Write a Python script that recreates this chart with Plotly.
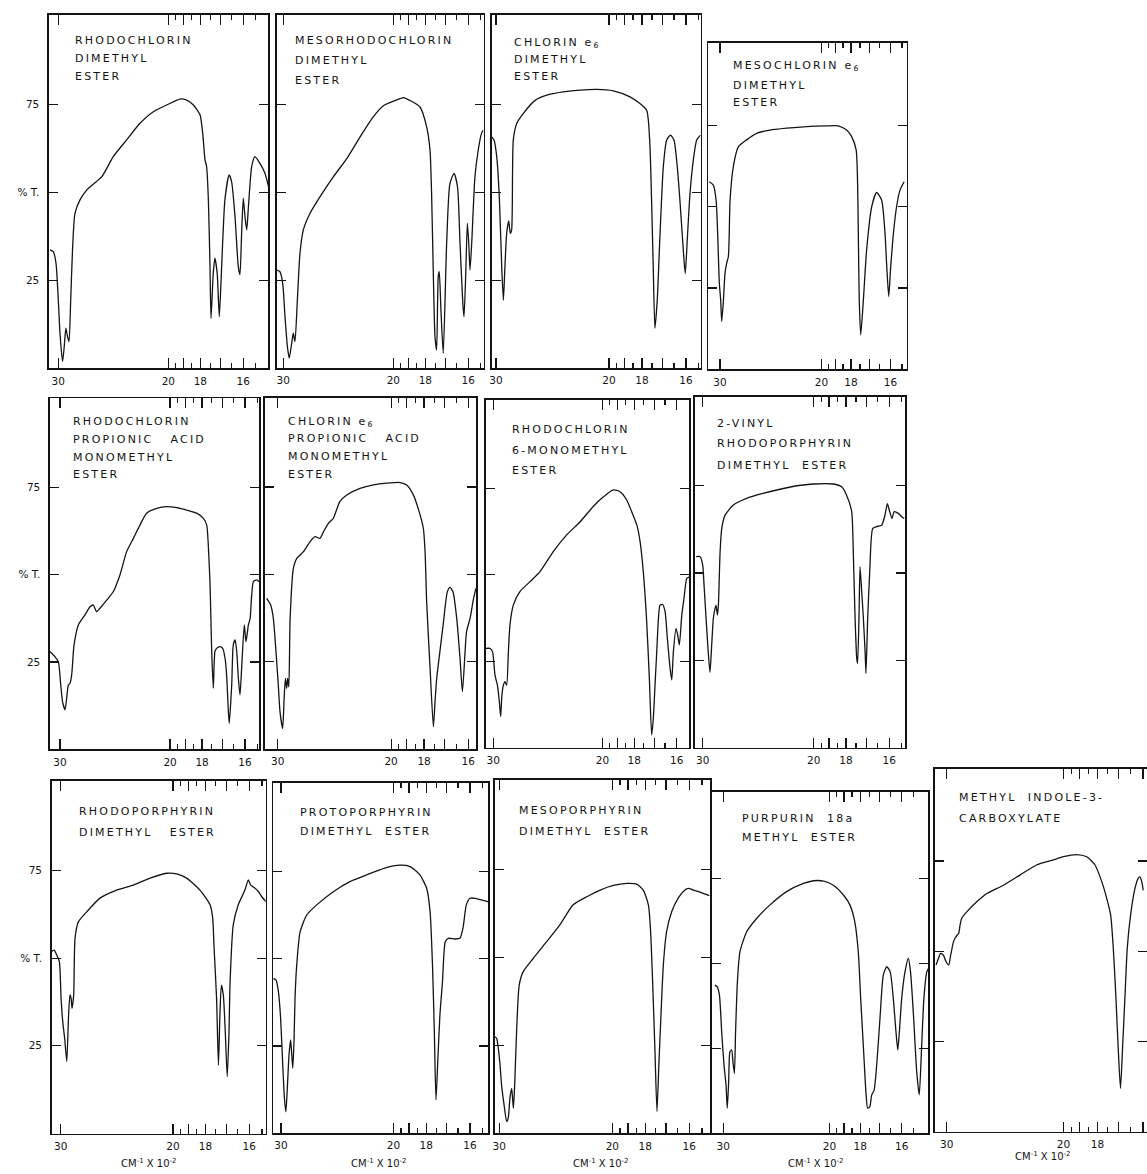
import numpy as np
import plotly.graph_objects as go

# ---------------- data: (wavenumber in cm^-1 x 10^-2, % transmission) ----------------
RHODOCHLORIN_DME = [(31.18,33.7),(30.70,33.2),(30.32,29.9),(30.00,19.4),(29.77,9.9),(29.43,1.9),(29.21,6.2),(29.00,11.4),(28.79,9.0),(28.61,7.6),
    (28.40,19.4),(28.18,33.7),(27.89,44.1),(27.31,47.9),(26.58,50.7),(25.05,54.5),(24.01,60.2),(22.89,65.0),(21.88,69.7),(20.95,73.0),
    (20.10,74.9),(19.23,76.6),(18.81,76.3),(18.40,74.9),(18.02,72.1),(17.88,66.9),(17.76,59.3),(17.68,57.4),(17.59,47.9),(17.51,28.9),
    (17.46,14.2),(17.35,27.0),(17.27,31.3),(17.16,27.0),(17.06,14.7),(16.95,28.9),(16.80,47.9),(16.61,55.0),(16.50,53.1),(16.35,43.1),
    (16.21,28.9),(16.14,26.6),(16.07,38.4),(16.00,48.4),(15.93,43.1),(15.86,39.4),(15.79,46.0),(15.66,57.4),(15.53,60.2),(15.34,58.3),
    (15.15,55.5),(15.02,51.7)]

MESORHODOCHLORIN_DME = [(30.92,27.9),(30.46,27.4),(30.08,24.1),(29.77,14.6),(29.45,6.1),(29.21,2.8),(28.90,7.0),(28.70,9.9),(28.49,7.5),
    (28.20,19.3),(27.89,32.6),(27.50,39.3),(26.76,44.0),(25.72,48.7),(24.45,54.4),(23.29,59.6),(22.24,65.8),(21.30,71.5),(20.58,74.8),
    (19.55,76.7),(19.33,77.0),(18.31,74.3),(17.93,68.6),(17.76,62.0),(17.68,49.7),(17.59,26.0),(17.51,8.9),(17.43,5.1),(17.35,26.0),
    (17.30,27.4),(17.22,16.5),(17.11,4.2),(16.95,35.5),(16.80,52.5),(16.61,55.4),(16.46,51.6),(16.35,35.5),(16.23,18.4),(16.18,14.6),
    (16.11,26.0),(16.04,41.2),(15.98,35.5),(15.93,27.9),(15.86,35.5),(15.73,54.4),(15.60,62.0),(15.47,66.8),(15.40,67.7)]

CHLORIN_E6_DME = [(30.59,65.8),(30.27,64.9),(29.90,60.1),(29.55,47.8),(29.26,28.8),(29.05,19.3),(28.86,28.8),(28.65,38.3),(28.40,41.9),
    (28.22,38.3),(28.06,39.3),(27.87,64.9),(27.48,69.6),(26.76,72.5),(25.58,76.2),(24.50,77.7),(23.11,78.6),(21.87,79.1),(20.74,79.3),
    (19.71,78.9),(18.68,77.2),(18.11,75.3),(17.76,73.4),(17.68,70.6),(17.59,62.0),(17.52,47.8),(17.44,28.8),(17.36,11.3),(17.25,19.3),
    (17.12,38.3),(16.97,57.3),(16.82,64.9),(16.65,66.3),(16.50,64.9),(16.36,57.3),(16.25,47.8),(16.11,33.6),(16.03,26.9),(15.95,36.4),
    (15.84,49.7),(15.71,59.2),(15.58,64.9),(15.44,66.3)]

MESOCHLORIN_E6_DME = [(31.68,57.7),(31.02,56.7),(30.59,52.1),(30.35,41.8),(30.10,26.5),(29.90,21.3),(29.75,14.7),(29.50,21.3),(29.28,29.5),
    (29.05,32.6),(28.81,34.7),(28.58,52.1),(28.15,62.4),(27.50,68.5),(26.52,70.6),(25.41,72.6),(24.08,73.6),(22.58,74.2),(21.02,74.7),
    (19.61,74.9),(18.81,74.9),(18.27,73.6),(17.96,71.6),(17.71,67.5),(17.63,57.2),(17.59,41.8),(17.54,21.3),(17.46,10.6),(17.32,21.3),
    (17.15,36.7),(16.89,50.1),(16.65,54.4),(16.41,52.1),(16.25,41.8),(16.17,31.6),(16.08,22.4),(15.99,31.6),(15.87,41.8),(15.73,50.1),
    (15.58,55.2),(15.41,57.7)]

RHODOCHLORIN_PROP_MME = [(31.43,28.0),(30.70,26.5),(30.23,25.1),(29.90,18.4),(29.65,13.6),(29.33,11.3),(29.12,14.6),(28.90,18.4),(28.70,18.9),
    (28.49,21.3),(28.20,29.9),(27.69,35.6),(26.94,38.5),(26.40,40.8),(26.06,41.3),(25.72,39.4),(25.39,40.4),(24.75,42.7),(24.16,45.1),
    (23.58,49.9),(23.03,56.6),(22.50,60.4),(22.01,64.2),(21.53,67.6),(20.85,69.0),(20.20,69.5),(19.55,69.2),(18.91,68.5),(18.31,67.6),
    (17.93,66.1),(17.76,64.2),(17.68,58.5),(17.59,47.0),(17.51,28.0),(17.43,17.5),(17.35,28.0),(17.27,28.9),(17.11,29.4),(16.98,28.9),
    (16.87,26.0),(16.80,21.3),(16.72,10.8),(16.68,7.4),(16.57,18.4),(16.50,29.9),(16.42,31.3),(16.35,28.0),(16.28,20.3),(16.21,15.6),
    (16.14,23.2),(16.03,35.6),(15.96,30.8),(15.86,35.6),(15.79,37.5),(15.66,48.0),(15.53,48.5),(15.44,48.0)]

CHLORIN_E6_PROP_MME = [(31.54,43.1),(30.96,41.2),(30.59,37.4),(30.23,27.9),(29.92,18.3),(29.70,10.7),(29.36,5.9),(29.19,13.5),(29.02,20.2),
    (28.86,17.4),(28.74,20.2),(28.60,17.8),(28.44,37.4),(28.06,51.7),(27.67,54.6),(26.94,56.5),(26.25,59.4),(25.76,60.8),(25.29,60.3),
    (24.96,62.2),(24.52,64.6),(24.10,66.0),(23.55,70.8),(23.00,72.7),(22.01,74.6),(21.10,75.6),(20.26,76.1),(19.42,76.3),(19.00,75.6),
    (18.60,72.7),(18.27,67.9),(18.04,63.2),(17.95,56.5),(17.87,42.2),(17.70,23.1),(17.54,6.4),(17.46,13.5),(17.38,20.2),(17.23,27.9),
    (17.08,35.5),(16.89,45.0),(16.77,46.3),(16.64,45.0),(16.48,37.4),(16.34,26.0),(16.24,16.4),(16.13,27.9),(16.07,33.6),(15.93,37.4),
    (15.79,43.1),(15.70,46.0)]

RHODOCHLORIN_6_MME = [(31.04,28.7),(30.46,28.7),(30.10,27.7),(29.77,21.0),(29.45,18.1),(29.19,13.3),(29.02,9.0),(28.86,15.2),(28.67,18.1),
    (28.47,19.1),(28.27,18.1),(28.06,27.7),(27.87,35.5),(27.48,41.2),(26.74,45.1),(25.68,48.0),(24.71,50.9),(23.55,56.6),(22.45,61.5),
    (21.46,65.3),(20.58,69.7),(19.93,72.5),(19.26,74.5),(18.84,74.0),(18.43,71.6),(18.14,68.2),(17.86,64.4),(17.69,59.5),(17.53,50.9),
    (17.37,37.4),(17.23,20.0),(17.12,3.7),(17.04,8.5),(16.96,18.1),(16.88,27.7),(16.80,37.4),(16.73,41.2),(16.61,41.4),(16.50,39.3),
    (16.40,31.6),(16.28,22.9),(16.21,19.6),(16.14,27.7),(16.03,34.5),(15.96,32.6),(15.89,29.7),(15.79,38.3),(15.70,43.2),(15.59,48.9),
    (15.48,49.4)]

VINYL_RHODOPORPHYRIN_DME = [(30.92,54.7),(30.35,54.7),(30.00,52.3),(29.82,46.6),(29.55,37.0),(29.33,29.4),(29.05,21.6),(28.83,29.4),(28.63,37.0),
    (28.42,39.9),(28.31,40.8),(28.13,38.0),(28.02,40.8),(27.82,56.1),(27.63,62.8),(27.25,66.6),(26.36,69.5),(25.05,71.4),(23.60,72.8),
    (22.25,74.0),(21.07,75.0),(20.02,75.5),(18.74,75.5),(18.25,74.7),(17.97,72.3),(17.71,67.6),(17.63,56.1),(17.54,37.0),(17.46,25.6),
    (17.42,24.1),(17.35,37.0),(17.30,51.8),(17.22,44.7),(17.14,37.0),(17.06,27.5),(17.02,21.3),(16.94,37.0),(16.84,51.3),(16.71,62.8),
    (16.54,63.3),(16.32,63.7),(16.18,66.6),(16.08,69.9),(16.00,68.0),(15.89,65.6),(15.80,67.6),(15.64,67.1),(15.50,66.1),(15.41,65.6)]

RHODOPORPHYRIN_DME = [(31.27,51.9),(30.90,52.3),(30.54,50.9),(30.18,49.0),(29.95,38.5),(29.73,31.9),(29.48,27.1),(29.21,20.5),(29.00,32.8),
    (28.81,39.5),(28.67,38.5),(28.56,35.7),(28.36,39.5),(28.20,55.7),(27.80,60.4),(26.88,63.2),(25.53,67.1),(24.01,69.4),(22.67,70.8),
    (21.46,72.8),(20.38,74.2),(19.74,74.0),(19.11,72.8),(18.31,69.4),(17.77,65.2),(17.64,61.4),(17.57,52.8),(17.45,38.5),(17.36,19.5),
    (17.29,33.8),(17.22,42.3),(17.13,39.5),(17.04,29.0),(16.95,16.2),(16.87,29.0),(16.82,43.3),(16.68,59.5),(16.46,65.2),(16.18,69.4),
    (16.04,72.3),(15.95,70.9),(15.86,70.4),(15.77,69.9),(15.64,69.0),(15.51,67.5),(15.35,66.1)]

PROTOPORPHYRIN_DME = [(31.07,44.4),(30.67,43.9),(30.35,40.6),(30.05,32.9),(29.77,19.5),(29.55,10.0),(29.36,6.1),(29.14,14.7),(28.97,22.4),
    (28.77,26.7),(28.65,23.3),(28.51,18.6),(28.36,26.2),(28.24,38.7),(28.04,48.2),(27.65,57.8),(26.92,62.6),(25.89,65.5),(24.34,69.3),
    (22.96,72.2),(21.73,74.1),(20.58,76.0),(19.56,76.9),(18.93,76.5),(18.35,74.1),(17.97,70.2),(17.80,63.5),(17.68,48.2),(17.59,29.1),
    (17.51,9.5),(17.43,19.5),(17.32,33.9),(17.20,43.4),(17.07,54.9),(16.93,55.9),(16.64,55.7),(16.42,55.9),(16.29,58.8),(16.15,65.5),
    (16.00,67.4),(15.79,67.4),(15.52,66.9),(15.29,66.4)]

MESOPORPHYRIN_DME = [(30.59,27.5),(30.35,27.0),(30.13,24.2),(29.90,19.4),(29.70,13.7),(29.38,8.1),(29.05,3.3),(28.86,4.3),(28.65,10.0),
    (28.44,12.8),(28.24,7.1),(28.09,13.7),(27.87,28.9),(27.57,42.2),(27.13,46.0),(26.08,49.8),(24.81,54.5),(23.66,59.3),(22.61,65.0),
    (21.63,67.3),(20.74,69.2),(19.93,70.5),(19.08,71.1),(18.48,70.9),(18.11,69.2),(17.84,65.0),(17.73,57.4),(17.63,43.1),(17.52,24.2),
    (17.42,6.2),(17.33,19.4),(17.23,33.7),(17.12,47.9),(16.97,57.4),(16.74,63.1),(16.46,66.9),(16.18,69.2),(16.04,69.7),(15.84,69.2),
    (15.58,68.6),(15.23,67.6)]

PURPURIN_18A_ME = [(31.24,43.6),(30.88,43.1),(30.56,40.7),(30.23,29.9),(29.90,20.1),(29.62,14.2),(29.45,7.4),(29.26,15.2),(29.09,24.0),
    (28.86,24.5),(28.70,21.1),(28.51,17.6),(28.36,29.9),(28.13,44.6),(27.82,53.4),(27.02,59.3),(25.93,63.2),(24.59,67.2),(23.11,71.1),
    (21.78,73.5),(21.05,74.3),(20.37,74.2),(19.72,73.0),(19.04,70.1),(18.63,67.2),(18.33,62.3),(18.12,53.4),(17.98,39.7),(17.83,25.0),
    (17.69,11.3),(17.61,7.4),(17.50,7.8),(17.40,11.3),(17.28,12.7),(17.15,20.1),(16.98,34.8),(16.83,46.6),(16.67,49.0),(16.51,47.5),
    (16.37,39.7),(16.25,29.9),(16.17,24.5),(16.10,29.9),(16.00,39.7),(15.86,47.5),(15.72,51.5),(15.63,47.5),(15.51,34.8),(15.38,18.1),
    (15.28,11.3),(15.19,25.0),(15.10,39.7),(14.99,47.5),(14.93,48.5)]

METHYL_INDOLE_3_CARBOXYLATE = [(31.43,46.2),(31.10,48.0),(30.81,49.4),(30.43,48.9),(30.08,47.1),(29.75,46.2),(29.50,48.9),(29.16,52.6),
    (28.97,53.6),(28.70,54.5),(28.54,54.9),(28.38,57.2),(28.20,59.1),(27.63,60.9),(26.58,63.7),(25.60,66.0),(24.14,68.3),(22.84,71.1),
    (21.67,73.9),(20.60,75.3),(20.01,76.2),(19.18,76.8),(18.59,76.2),(18.13,73.9),(17.79,69.3),(17.55,64.6),(17.37,60.0),(17.25,50.8),
    (17.13,36.9),(17.03,23.1),(16.93,12.0),(16.84,23.1),(16.74,36.9),(16.64,50.8),(16.50,60.0),(16.32,67.4),(16.19,70.2),(16.12,70.6),
    (16.05,69.3),(15.99,66.9)]

# panel titles (one list of lines per panel)
TITLE_LINES = [
    ["RHODOCHLORIN", "DIMETHYL", "ESTER"],
    ["MESORHODOCHLORIN", "DIMETHYL", "ESTER"],
    ["CHLORIN e<sub>6</sub>", "DIMETHYL", "ESTER"],
    ["MESOCHLORIN e<sub>6</sub>", "DIMETHYL", "ESTER"],
    ["RHODOCHLORIN", "PROPIONIC\u00a0\u00a0 ACID", "MONOMETHYL", "ESTER"],
    ["CHLORIN e<sub>6</sub>", "PROPIONIC\u00a0\u00a0 ACID", "MONOMETHYL", "ESTER"],
    ["RHODOCHLORIN", "6-MONOMETHYL", "ESTER"],
    ["2-VINYL", "RHODOPORPHYRIN", "DIMETHYL\u00a0 ESTER"],
    ["RHODOPORPHYRIN", "DIMETHYL\u00a0\u00a0 ESTER"],
    ["PROTOPORPHYRIN", "DIMETHYL\u00a0 ESTER"],
    ["MESOPORPHYRIN", "DIMETHYL\u00a0 ESTER"],
    ["PURPURIN\u00a0 18a", "METHYL\u00a0 ESTER"],
    ["METHYL\u00a0 INDOLE-3-", "CARBOXYLATE"],
]

# axis ticks (cm^-1 x 10^-2)
LABEL_WN = [30, 20, 18, 16]
LABEL_TXT = ["30", "20", "18", "16"]
TALL_UNLABELLED_WN = [19, 17]
SHORT_WN = [19.5, 18.5, 17.5, 16.5, 15.5]
Y_TICKS = [25, 50, 75]
Y_TICKTEXT = ["25", "% T.", "75"]
X_UNIT = "CM<sup>-1</sup> X 10<sup>-2</sup>"

SPECTRA = [RHODOCHLORIN_DME, MESORHODOCHLORIN_DME, CHLORIN_E6_DME, MESOCHLORIN_E6_DME,
           RHODOCHLORIN_PROP_MME, CHLORIN_E6_PROP_MME, RHODOCHLORIN_6_MME, VINYL_RHODOPORPHYRIN_DME,
           RHODOPORPHYRIN_DME, PROTOPORPHYRIN_DME, MESOPORPHYRIN_DME, PURPURIN_18A_ME,
           METHYL_INDOLE_3_CARBOXYLATE]

# ---------------- instrument x scale (prism chart: calibration knots) ----------------
KNOT_WN = np.array([30.0, 20.0, 18.0, 16.0])
KNOT_POS = np.array([0.0, 0.595, 0.768, 1.0])


def chart_pos(wn):
    lam = 100.0 / np.asarray(wn, dtype=float)
    lk = 100.0 / KNOT_WN
    out = np.interp(lam, lk, KNOT_POS)
    s0 = (KNOT_POS[1] - KNOT_POS[0]) / (lk[1] - lk[0])
    s1 = (KNOT_POS[-1] - KNOT_POS[-2]) / (lk[-1] - lk[-2])
    lo = lam < lk[0]
    hi = lam > lk[-1]
    out[lo] = KNOT_POS[0] + s0 * (lam[lo] - lk[0])
    out[hi] = KNOT_POS[-1] + s1 * (lam[hi] - lk[-1])
    return out


# ---------------- layout geometry (pixels) ----------------
FW, FH = 1147, 1174
INK = "#141414"
FONT = "DejaVu Sans"
N = 13
# left, right, top, bottom of frame; pixel of the 30 and 16 ticks
GEOM = [
    (49, 268.3, 15, 368.3, 58.3, 243.3),
    (276.7, 483.5, 15, 368, 283.3, 468.3),
    (491.7, 700.7, 15, 368, 496, 686),
    (708.3, 906.7, 42.7, 369.3, 720, 890.5),
    (50, 259, 398.3, 749.3, 60, 245),
    (265, 476, 398, 749, 277.7, 468.3),
    (486, 689.3, 400, 747.7, 493.3, 676.7),
    (695, 905, 396.7, 747.7, 702.7, 889.3),
    (51.7, 265.7, 781, 1133.5, 60.7, 249.3),
    (273.3, 488.3, 783, 1133, 281, 470),
    (495, 710, 780, 1133.3, 499.3, 689.3),
    (712.3, 928.3, 791.7, 1133.3, 723.3, 901.7),
    (935, 1147, 769, 1131.7, 946.7, 1143),
]
# title anchor (x px, y px of each line)
TITLE_POS = [
    (72.7, [40, 58, 76]),
    (292.7, [40, 61, 80]),
    (511.7, [43, 59.3, 76]),
    (730.7, [66, 85, 102.7]),
    (70.7, [421.7, 439, 457.7, 475]),
    (286, [422.3, 438.3, 456.7, 475]),
    (510, [430, 450.7, 471]),
    (715, [423.3, 443.3, 465]),
    (77.3, [811.7, 832.7]),
    (298.3, [812.3, 831.7]),
    (516.7, [810, 831]),
    (740, [818.3, 837.7]),
    (956.7, [797.7, 818.3]),
]
UNIT_POS = [(149, 1163), (379, 1163), (601, 1163), (816, 1163), (1043, 1156)]
SPACED = '<span style="letter-spacing:2.2px">{}</span>'

fig = go.Figure()
layout = dict(width=FW, height=FH, margin=dict(l=0, r=0, t=0, b=0, pad=0), template="none",
              paper_bgcolor="white", plot_bgcolor="white", showlegend=False,
              font=dict(family=FONT, size=10, color=INK))
annotations = []
label_pos = chart_pos(LABEL_WN)
tall_pos = chart_pos(TALL_UNLABELLED_WN)
short_pos = chart_pos(SHORT_WN)
tickfont = dict(size=10.5, family=FONT, color=INK)

for i, (spec, geom) in enumerate(zip(SPECTRA, GEOM)):
    k = i + 1
    L, R, T, B, x30, x16 = geom
    span = x16 - x30
    urange = [(L - x30) / span, (R - x30) / span]
    xdom = [L / FW, min(R / FW, 1.0)]
    wn = [p[0] for p in spec]
    tr = [p[1] for p in spec]
    xn = "x" if k == 1 else f"x{k}"
    yn = "y" if k == 1 else f"y{k}"
    xo = f"x{k + N}"  # overlay axis carrying the short ticks
    fig.add_trace(go.Scatter(x=chart_pos(wn), y=tr, mode="lines",
                             line=dict(color=INK, width=1.3, shape="spline", smoothing=0.6),
                             xaxis=xn, yaxis=yn, hoverinfo="skip"))
    fig.add_trace(go.Scatter(x=[], y=[], mode="lines", xaxis=xo, yaxis=yn, hoverinfo="skip"))
    left_col = k in (1, 5, 9)
    layout["xaxis" if k == 1 else f"xaxis{k}"] = dict(
        domain=xdom, range=urange, anchor=yn,
        tickmode="array", tickvals=label_pos, ticktext=LABEL_TXT,
        ticks="inside", ticklen=10, tickwidth=1.2, tickcolor=INK,
        minor=dict(tickmode="array", tickvals=tall_pos, ticks="inside", ticklen=10,
                   tickwidth=1.2, tickcolor=INK, showgrid=False),
        showline=True, linecolor=INK, linewidth=1.6, mirror="ticks",
        showgrid=False, zeroline=False, tickfont=tickfont,
        ticklabelstandoff=2, fixedrange=True)
    layout[f"xaxis{k + N}"] = dict(
        domain=xdom, range=urange, anchor=yn, overlaying=xn, side="bottom",
        tickmode="array", tickvals=short_pos, showticklabels=False,
        ticks="inside", ticklen=5, tickwidth=1.2, tickcolor=INK,
        showline=False, mirror="ticks", showgrid=False, zeroline=False, fixedrange=True)
    layout["yaxis" if k == 1 else f"yaxis{k}"] = dict(
        domain=[1 - B / FH, 1 - T / FH], range=[0, 100.5], anchor=xn,
        tickmode="array", tickvals=Y_TICKS, ticktext=Y_TICKTEXT, showticklabels=left_col,
        ticks="inside", ticklen=9, tickwidth=1.2, tickcolor=INK,
        showline=True, linecolor=INK, linewidth=1.6, mirror="ticks",
        showgrid=False, zeroline=False, tickfont=tickfont,
        ticklabelstandoff=6, fixedrange=True)
    tx, tys = TITLE_POS[i]
    for line, ty in zip(TITLE_LINES[i], tys):
        annotations.append(dict(x=tx / FW, y=1 - ty / FH, xref="paper", yref="paper",
                                text=SPACED.format(line), showarrow=False,
                                xanchor="left", yanchor="middle",
                                font=dict(family=FONT, size=11, color=INK)))

for ux, uy in UNIT_POS:
    annotations.append(dict(x=ux / FW, y=1 - uy / FH, xref="paper", yref="paper",
                            text=X_UNIT, showarrow=False, xanchor="center", yanchor="middle",
                            font=dict(family=FONT, size=10, color=INK)))

layout["annotations"] = annotations
fig.update_layout(**layout)
fig.write_html("out.html", config={"displayModeBar": False, "staticPlot": True},
               post_script="document.body.style.margin='0';document.body.style.overflow='hidden';")
